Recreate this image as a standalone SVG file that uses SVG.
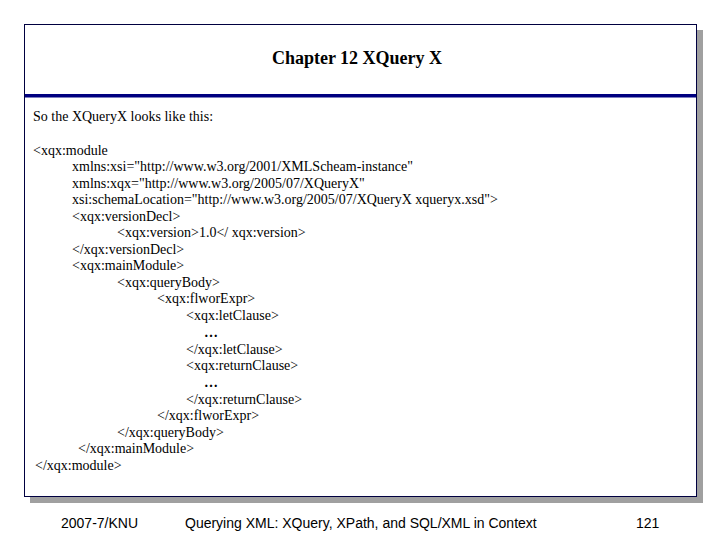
<svg xmlns="http://www.w3.org/2000/svg" width="720" height="540" viewBox="0 0 720 540">
<style>
.c{font-family:"Liberation Serif",serif;font-size:14px;fill:#000}
.f{font-family:"Liberation Sans",sans-serif;font-size:14px;fill:#000}
</style>
<rect width="720" height="540" fill="#fff"/>
<rect x="30" y="30" width="673" height="473" fill="#a0a0a0"/>
<rect x="24.5" y="24.5" width="672" height="472" fill="#fff" stroke="#000040" stroke-width="1"/>
<rect x="25" y="94" width="671" height="3.5" fill="#000080"/>
<text x="357" y="64" text-anchor="middle" font-family="Liberation Serif,serif" font-size="18" font-weight="bold">Chapter 12 XQuery X</text>
<g class="c">
<text x="33" y="121">So the XQueryX looks like this:</text>
<text x="33" y="155">&lt;xqx:module</text>
<text x="72" y="171">xmlns:xsi="http://www.w3.org/2001/XMLScheam-instance"</text>
<text x="72" y="188">xmlns:xqx="http://www.w3.org/2005/07/XQueryX"</text>
<text x="72" y="204">xsi:schemaLocation="http://www.w3.org/2005/07/XQueryX xqueryx.xsd"&gt;</text>
<text x="72" y="221">&lt;xqx:versionDecl&gt;</text>
<text x="117" y="237">&lt;xqx:version&gt;1.0&lt;/ xqx:version&gt;</text>
<text x="72" y="254">&lt;/xqx:versionDecl&gt;</text>
<text x="72" y="270">&lt;xqx:mainModule&gt;</text>
<text x="117" y="287">&lt;xqx:queryBody&gt;</text>
<text x="157" y="303">&lt;xqx:flworExpr&gt;</text>
<text x="186" y="320">&lt;xqx:letClause&gt;</text>
<text x="204" y="337" font-weight="bold">…</text>
<text x="186" y="354">&lt;/xqx:letClause&gt;</text>
<text x="186" y="370">&lt;xqx:returnClause&gt;</text>
<text x="204" y="387" font-weight="bold">…</text>
<text x="186" y="404">&lt;/xqx:returnClause&gt;</text>
<text x="157" y="420">&lt;/xqx:flworExpr&gt;</text>
<text x="117" y="437">&lt;/xqx:queryBody&gt;</text>
<text x="78" y="453">&lt;/xqx:mainModule&gt;</text>
<text x="35" y="470">&lt;/xqx:module&gt;</text>
</g>
<g class="f">
<text x="61" y="528">2007-7/KNU</text>
<text x="185" y="528">Querying XML: XQuery, XPath, and SQL/XML in Context</text>
<text x="636" y="528">121</text>
</g>
</svg>
